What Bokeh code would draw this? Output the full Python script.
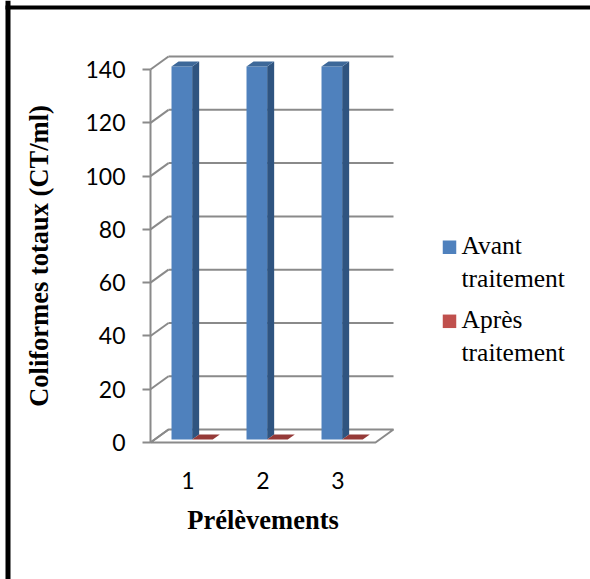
from bokeh.plotting import figure
from bokeh.models import Range1d, FixedTicker, LinearAxis, BoxAnnotation
from bokeh.embed import file_html
from bokeh.resources import INLINE
from bokeh.core.properties import value

# ---------------- data ----------------
categories = ["1", "2", "3"]
avant = [140, 140, 140]
apres = [0, 0, 0]
series_names = ["Avant\ntraitement", "Après\ntraitement"]
y_ticks = [0, 20, 40, 60, 80, 100, 120, 140]
y_title = "Coliformes totaux (CT/ml)"
x_title = "Prélèvements"

# ---------------- layout constants ----------------
W, H = 590, 579
X0_PX = 150      # pixel of front-left floor corner
CAT_PX = 75      # pixels per category
Y0_PX = 442      # pixel of value 0 (front)
K = 2.664        # pixels per value unit

x_start = 0.5 - X0_PX / CAT_PX
x_end = 0.5 + (W - X0_PX) / CAT_PX
y_start = (Y0_PX - H) / K
y_end = Y0_PX / K


def sx(px):
    return x_start + px / CAT_PX


def sy(py):
    return y_end - py / K


DX = 18 / CAT_PX   # full depth shift in category units
DY = 13 / K        # full depth shift in value units
ZF, ZD = 0.23, 0.39
BAR_W = 0.275

GRAY = "#8A8A8A"
colors = {
    "front": ["#4F81BD", "#C0504D"],
    "side": ["#2F5480", "#7E2F2D"],
    "top": ["#3D6899", "#953A38"],
}

p = figure(width=W, height=H, x_range=Range1d(x_start, x_end),
           y_range=Range1d(y_start, y_end), output_backend="svg",
           toolbar_location=None, min_border=0, x_axis_type=None,
           y_axis_type=None)
p.xgrid.visible = False
p.ygrid.visible = False
p.outline_line_color = None
p.background_fill_color = "white"
p.border_fill_color = "white"

n = len(categories)
ymax = max(y_ticks)

# floor
p.patch([0.5, n + 0.5, n + 0.5 + DX, 0.5 + DX], [0, 0, DY, DY],
        fill_color="white", line_color=GRAY, line_width=2)
# back wall gridlines
p.multi_line([[0.5 + DX, n + 0.5 + DX] for t in y_ticks[1:]],
             [[t + DY, t + DY] for t in y_ticks[1:]],
             line_color=GRAY, line_width=2)
# side wall gridlines
p.multi_line([[0.5, 0.5 + DX] for t in y_ticks],
             [[t, t + DY] for t in y_ticks],
             line_color=GRAY, line_width=2)

# bars
series = [avant, apres]
fx, fy = ZF * DX, ZF * DY
ddx, ddy = ZD * DX, ZD * DY
group = len(series) * BAR_W
for s, vals in enumerate(series):
    side_xs, side_ys, top_xs, top_ys = [], [], [], []
    lefts, rights, tops = [], [], []
    for i, v in enumerate(vals):
        xl = (i + 1) - group / 2 + s * BAR_W + fx
        xr = xl + BAR_W
        yb = fy
        yt = v + fy
        lefts.append(xl)
        rights.append(xr)
        tops.append(yt)
        side_xs.append([xr, xr + ddx, xr + ddx, xr])
        side_ys.append([yb, yb + ddy, yt + ddy, yt])
        top_xs.append([xl, xr, xr + ddx, xl + ddx])
        top_ys.append([yt, yt, yt + ddy, yt + ddy])
    p.patches(side_xs, side_ys, fill_color=colors["side"][s], line_color=None)
    p.quad(left=lefts, right=rights, bottom=[fy] * n, top=tops,
           fill_color=colors["front"][s], line_color=None)
    p.patches(top_xs, top_ys, fill_color=colors["top"][s], line_color=None)

# axes
yaxis = LinearAxis(fixed_location=0.5, bounds=(0, ymax),
                   ticker=FixedTicker(ticks=y_ticks))
yaxis.axis_line_color = GRAY
yaxis.axis_line_width = 2
yaxis.major_tick_line_color = GRAY
yaxis.major_tick_line_width = 2
yaxis.major_tick_out = 8
yaxis.major_tick_in = 0
yaxis.minor_tick_line_color = None
yaxis.major_label_standoff = 17
yaxis.major_label_text_font = "Lato"
yaxis.major_label_text_font_size = "23px"
yaxis.major_label_text_color = "black"
yaxis.axis_label = y_title
yaxis.axis_label_text_font = "Liberation Serif"
yaxis.axis_label_text_font_style = "bold"
yaxis.axis_label_text_font_size = "26.5px"
yaxis.axis_label_text_color = "black"
yaxis.axis_label_standoff = 28
p.add_layout(yaxis, "left")

xaxis = LinearAxis(fixed_location=0, bounds=(0.5, n + 0.5),
                   ticker=FixedTicker(ticks=list(range(1, n + 1))),
                   major_label_overrides={i + 1: c for i, c in enumerate(categories)})
xaxis.axis_line_color = None
xaxis.major_tick_line_color = None
xaxis.minor_tick_line_color = None
xaxis.major_tick_out = 0
xaxis.major_tick_in = 0
xaxis.major_label_standoff = 29
xaxis.major_label_text_font = "Lato"
xaxis.major_label_text_font_size = "23px"
xaxis.major_label_text_color = "black"
xaxis.axis_label = x_title
xaxis.axis_label_text_font = "Liberation Serif"
xaxis.axis_label_text_font_style = "bold"
xaxis.axis_label_text_font_size = "26.5px"
xaxis.axis_label_text_color = "black"
xaxis.axis_label_standoff = 13
p.add_layout(xaxis, "below")

# legend (manual)
p.scatter(x=[sx(449)] * 2, y=[sy(246.7), sy(320.8)], marker="square",
          size=13.5, fill_color=colors["front"], line_color=None)
p.text(x=[sx(461)] * 2, y=[sy(230), sy(304.5)], text=series_names,
       text_font=value("Liberation Serif"), text_font_size="25.5px",
       text_baseline="top", text_align="left", text_line_height=1.15,
       text_color="black")

# black frame (left and top edges)
p.add_layout(BoxAnnotation(left=sx(5), right=sx(10), fill_color="black",
                           fill_alpha=1, line_color=None))
p.add_layout(BoxAnnotation(left=sx(5), bottom=sy(9), top=sy(5),
                           fill_color="black", fill_alpha=1, line_color=None))

open("out.html", "w").write(file_html(p, INLINE))
